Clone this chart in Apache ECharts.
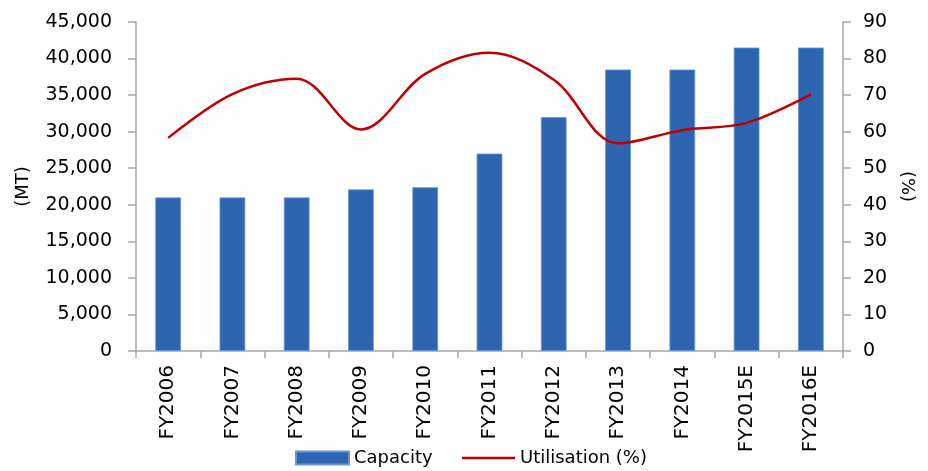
<!DOCTYPE html>
<html>
<head>
<meta charset="utf-8">
<script src="https://cdn.jsdelivr.net/npm/echarts@6/dist/echarts.min.js"></script>
<style>html,body{margin:0;padding:0;background:#fff;}#c{width:928px;height:471px;}</style>
</head>
<body>
<div id="c"></div>
<script>
var categories = ['FY2006','FY2007','FY2008','FY2009','FY2010','FY2011','FY2012','FY2013','FY2014','FY2015E','FY2016E'];
var capacity = [21000, 21000, 21000, 22100, 22400, 27000, 32000, 38500, 38500, 41500, 41500];
var utilisation = [58.3, 70.3, 74.5, 60.6, 75.8, 81.6, 74.2, 56.8, 60.4, 62.4, 70.2];
var leftTicks = {min: 0, max: 45000, interval: 5000};
var rightTicks = {min: 0, max: 90, interval: 10};

var FONT = 'DejaVu Sans';
var axisGray = '#A6A6A6';
var chart = echarts.init(document.getElementById('c'));
chart.setOption({
  animation: false,
  textStyle: {fontFamily: FONT, color: '#000'},
  grid: {left: 136, right: 85, top: 22, bottom: 120},
  legend: [{
    left: 295, top: 449, padding: 0,
    itemWidth: 53, itemHeight: 13,
    textStyle: {fontFamily: FONT, fontSize: 18, color: '#000'},
    data: [{name: 'Capacity', icon: 'rect'}]
  }, {
    left: 462, top: 449, padding: 0,
    itemWidth: 53, itemHeight: 2.5,
    textStyle: {fontFamily: FONT, fontSize: 18, color: '#000'},
    data: [{name: 'Utilisation (%)', icon: 'rect'}]
  }],
  xAxis: {
    type: 'category',
    data: categories,
    axisLine: {lineStyle: {color: axisGray, width: 1.5}},
    axisTick: {show: true, length: 7, lineStyle: {color: axisGray, width: 1.5}},
    axisLabel: {rotate: 90, margin: 14, fontSize: 20, color: '#000', fontFamily: FONT}
  },
  yAxis: [{
    type: 'value', min: leftTicks.min, max: leftTicks.max, interval: leftTicks.interval,
    name: '(MT)', nameLocation: 'middle', nameGap: 104, nameRotate: 90,
    nameTextStyle: {fontSize: 18, color: '#000', fontFamily: FONT},
    splitLine: {show: false},
    axisLine: {show: true, lineStyle: {color: axisGray, width: 1.5}},
    axisTick: {show: true, length: 8, lineStyle: {color: axisGray, width: 1.5}},
    axisLabel: {margin: 24, fontSize: 19, color: '#000', fontFamily: FONT,
      formatter: function (v) { return v.toLocaleString('en-US'); }}
  }, {
    type: 'value', min: rightTicks.min, max: rightTicks.max, interval: rightTicks.interval,
    position: 'right',
    name: '(%)', nameLocation: 'middle', nameGap: 50, nameRotate: -90,
    nameTextStyle: {fontSize: 18, color: '#000', fontFamily: FONT},
    splitLine: {show: false},
    axisLine: {show: true, lineStyle: {color: axisGray, width: 1.5}},
    axisTick: {show: true, length: 8, lineStyle: {color: axisGray, width: 1.5}},
    axisLabel: {margin: 20, fontSize: 19, color: '#000', fontFamily: FONT}
  }],
  series: [{
    name: 'Capacity', type: 'bar', data: capacity, yAxisIndex: 0,
    barWidth: '40%',
    itemStyle: {color: '#2E65B1', borderColor: '#6C93CF', borderWidth: 0.8}
  }, {
    name: 'Utilisation (%)', type: 'line', data: utilisation, yAxisIndex: 1,
    smooth: 0.35, symbol: 'none',
    lineStyle: {color: '#C00000', width: 2.5},
    itemStyle: {color: '#C00000'}
  }]
});
</script>
</body>
</html>
